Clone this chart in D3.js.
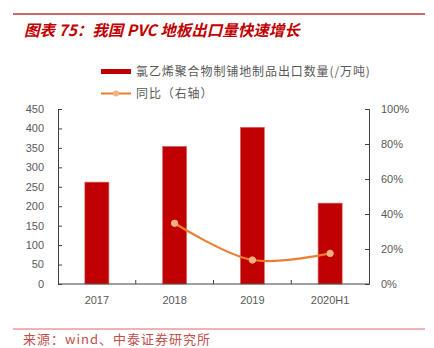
<!DOCTYPE html>
<html><head><meta charset="utf-8">
<script src="https://cdn.jsdelivr.net/npm/d3@7"></script>
<style>body{margin:0;background:#fff}svg{display:block}</style>
</head><body><svg id="c" width="434" height="348"></svg>
<script>
const categories = ["2017", "2018", "2019", "2020H1"];
const exportVolume = [262, 354, 403, 208];
const yoyGrowth = [null, 0.347, 0.137, 0.175];
const leftTicks = [0, 50, 100, 150, 200, 250, 300, 350, 400, 450];
const rightTicks = [0, 0.2, 0.4, 0.6, 0.8, 1.0];
const barLabel = "氯乙烯聚合物制铺地制品出口数量(/万吨)";
const lineLabel = "同比（右轴）";
const titleText = "图表 75：我国 PVC 地板出口量快速增长";
const sourceText = "来源：wind、中泰证券研究所";

const svg = d3.select("#c");
const font = "'Noto Sans CJK SC', 'Noto Sans', sans-serif";
const gray = "#595959";
const red = "#C00000";

// header
svg.append("line").attr("x1",13).attr("x2",425).attr("y1",14).attr("y2",14)
  .attr("stroke","#C0504D").attr("stroke-width",2).attr("opacity",0.85);
svg.append("text").attr("x",24).attr("y",36).text(titleText)
  .attr("font-family",font).attr("font-size",15.5).attr("font-weight","bold")
  .attr("font-style","italic").attr("fill",red);

const L=58, R=369, T=109, B=284;
const x = d3.scaleBand().domain(categories).range([L,R]).paddingInner(0.69).paddingOuter(0.345);
const xs = d3.scaleBand().domain(categories).range([L,R]);
const yL = d3.scaleLinear().domain([0,450]).range([B,T]);
const yR = d3.scaleLinear().domain([0,1]).range([B,T]);

// bars
svg.append("g").selectAll("rect").data(categories).join("rect")
  .attr("x",d=>x(d)).attr("width",x.bandwidth())
  .attr("y",(d,i)=>yL(exportVolume[i])).attr("height",(d,i)=>B-yL(exportVolume[i]))
  .attr("fill",red).attr("stroke","#e07070").attr("stroke-width",0.6);

// left axis
const gl = svg.append("g").attr("transform",`translate(${L},0)`)
  .call(d3.axisRight(yL).tickValues(leftTicks).tickSize(4).tickFormat(""));
gl.select(".domain").attr("stroke","#404040");
gl.selectAll(".tick line").attr("stroke","#404040");
svg.append("g").selectAll("text").data(leftTicks).join("text")
  .attr("x",44).attr("y",d=>yL(d)).attr("dy","0.35em").attr("text-anchor","end")
  .text(d=>d).attr("font-family","'Liberation Sans', Arial, sans-serif").attr("font-size",11).attr("fill",gray);

// right axis
const gr = svg.append("g").attr("transform",`translate(${R},0)`)
  .call(d3.axisLeft(yR).tickValues(rightTicks).tickSize(4).tickFormat(""));
gr.select(".domain").attr("stroke","#404040");
gr.selectAll(".tick line").attr("stroke","#404040");
svg.append("g").selectAll("text").data(rightTicks).join("text")
  .attr("x",381).attr("y",d=>yR(d)).attr("dy","0.35em").attr("text-anchor","start")
  .text(d=>Math.round(d*100)+"%").attr("font-family","'Liberation Sans', Arial, sans-serif").attr("font-size",11).attr("fill",gray);

// x axis
svg.append("line").attr("x1",L).attr("x2",R).attr("y1",B).attr("y2",B).attr("stroke","#404040");
svg.append("g").selectAll("line").data(categories.slice(1)).join("line")
  .attr("x1",d=>xs(d)).attr("x2",d=>xs(d)).attr("y1",B).attr("y2",B-4).attr("stroke","#404040");
svg.append("g").selectAll("text").data(categories).join("text")
  .attr("x",d=>xs(d)+xs.bandwidth()/2).attr("y",304).attr("text-anchor","middle")
  .text(d=>d).attr("font-family","'Liberation Sans', Arial, sans-serif").attr("font-size",11).attr("fill",gray);

// line
const pts = categories.map((c,i)=>({c, v:yoyGrowth[i]})).filter(d=>d.v!=null);
const line = d3.line().x(d=>xs(d.c)+xs.bandwidth()/2).y(d=>yR(d.v)).curve(d3.curveCatmullRom.alpha(0.5));
svg.append("path").datum(pts).attr("d",line).attr("fill","none").attr("stroke","#ED7D31").attr("stroke-width",2.2);
svg.append("g").selectAll("circle").data(pts).join("circle")
  .attr("cx",d=>xs(d.c)+xs.bandwidth()/2).attr("cy",d=>yR(d.v)).attr("r",3.2)
  .attr("fill","#F4B183").attr("stroke","#F4B183");

// legend
svg.append("rect").attr("x",101).attr("y",69).attr("width",30).attr("height",5).attr("fill",red);
svg.append("text").attr("x",136).attr("y",76).text(barLabel)
  .attr("font-family",font).attr("font-size",12).attr("letter-spacing",0.9).attr("fill",gray);
svg.append("line").attr("x1",101).attr("x2",131).attr("y1",93.5).attr("y2",93.5).attr("stroke","#ED7D31").attr("stroke-width",2);
svg.append("circle").attr("cx",116).attr("cy",93.5).attr("r",3).attr("fill","#F4B183");
svg.append("text").attr("x",136).attr("y",98).text(lineLabel)
  .attr("font-family",font).attr("font-size",12).attr("letter-spacing",0.9).attr("fill",gray);

// footer
svg.append("line").attr("x1",13).attr("x2",425).attr("y1",329).attr("y2",329)
  .attr("stroke","#E06666").attr("stroke-width",1);
svg.append("text").attr("x",23).attr("y",344).text(sourceText)
  .attr("font-family",font).attr("font-size",13).attr("letter-spacing",1).attr("fill","#C0504D");
</script></body></html>
